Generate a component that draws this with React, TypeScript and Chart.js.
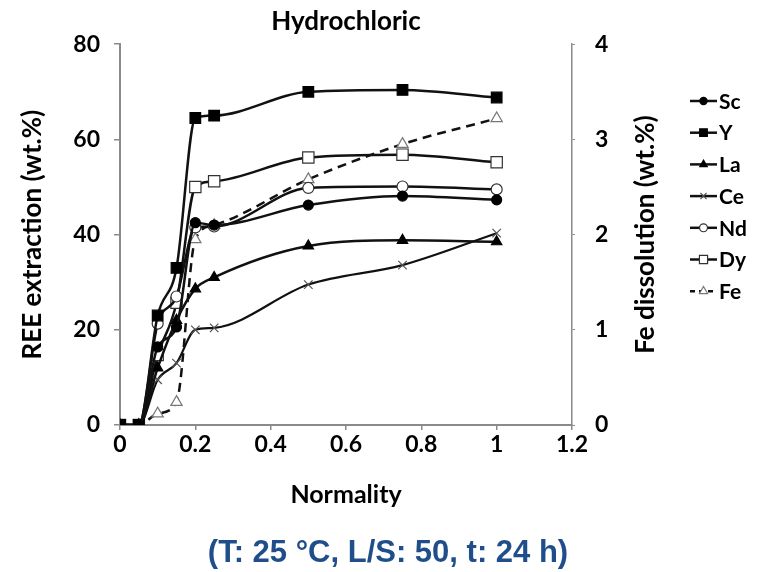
import React, { useEffect, useRef } from 'react';
import { Chart, registerables } from 'chart.js';
import { drawPoint } from 'chart.js/helpers';

Chart.register(...registerables);

const normality = [0, 0.05, 0.1, 0.15, 0.2, 0.25, 0.5, 0.75, 1.0];
const scValues = [0, 0, 16.4, 20.6, 42.5, 42.0, 46.2, 48.1, 47.3];
const yValues = [0, 0, 23.0, 33.0, 64.5, 65.0, 70.0, 70.4, 68.8];
const laValues = [0, 0, 12.0, 22.0, 28.6, 31.0, 37.6, 38.8, 38.5];
const ceValues = [0, 0, 9.5, 13.0, 20.0, 20.4, 29.5, 33.6, 40.3];
const ndValues = [0, 0, 21.3, 27.0, 41.5, 41.7, 49.8, 50.1, 49.5];
const dyValues = [0, 0, 14.7, 25.7, 50.0, 51.2, 56.2, 56.8, 55.2];
const feValues = [0, 0, 0.12, 0.24, 1.95, 2.1, 2.58, 2.95, 3.22];

const seriesNames = ['Sc', 'Y', 'La', 'Ce', 'Nd', 'Dy', 'Fe'];
const yTicks = [0, 20, 40, 60, 80];
const feTicks = [0, 1, 2, 3, 4];
const xTicks = [0, 0.2, 0.4, 0.6, 0.8, 1.0, 1.2];

const titleText = 'Hydrochloric';
const xTitle = 'Normality';
const yTitle = 'REE extraction (wt.%)';
const y1Title = 'Fe dissolution (wt.%)';
const conditionText = '(T: 25 °C, L/S: 50, t: 24 h)';

const toPoints = (vals: number[]) => vals.map((v, i) => ({ x: normality[i], y: v }));

const FONT = 'Lato, "Open Sans", sans-serif';

const extrasPlugin = {
  id: 'extras',
  afterDraw(chart: any) {
    const { ctx, chartArea } = chart;
    ctx.save();
    ctx.fillStyle = '#000';
    ctx.font = `bold 26px ${FONT}`;
    ctx.textAlign = 'center';
    ctx.textBaseline = 'middle';
    ctx.translate(646, (chartArea.top + chartArea.bottom) / 2);
    ctx.rotate(-Math.PI / 2);
    ctx.fillText(y1Title, 0, 0);
    ctx.restore();

    ctx.save();
    const x0 = 690;
    const x1 = 717;
    const startY = 101;
    const step = 31.7;
    chart.data.datasets.forEach((ds: any, i: number) => {
      const yy = startY + i * step;
      ctx.save();
      ctx.strokeStyle = '#111';
      ctx.lineWidth = 2.5;
      if (ds.borderDash && ds.borderDash.length) ctx.setLineDash([5, 4]);
      ctx.beginPath();
      ctx.moveTo(x0, yy);
      ctx.lineTo(x1, yy);
      ctx.stroke();
      ctx.setLineDash([]);
      ctx.fillStyle = ds.pointBackgroundColor;
      ctx.strokeStyle = ds.pointBorderColor;
      ctx.lineWidth = 1.2;
      drawPoint(ctx, { pointStyle: ds.pointStyle, radius: ds.pointRadius * 0.72, rotation: 0, borderWidth: 1.2 }, (x0 + x1) / 2, yy);
      ctx.restore();
      ctx.fillStyle = '#000';
      ctx.font = `bold 21px ${FONT}`;
      ctx.textAlign = 'left';
      ctx.textBaseline = 'middle';
      ctx.fillText(ds.label, x1 + 2, yy + 1);
    });
    ctx.restore();
  },
};

const fmt = (v: any) => String(+Number(v).toFixed(2));

export default function App() {
  const canvasRef = useRef<HTMLCanvasElement | null>(null);

  useEffect(() => {
    document.body.style.margin = '0';
    const canvas = canvasRef.current;
    if (!canvas) return;

    const base = {
      borderColor: '#111',
      borderWidth: 2.5,
      cubicInterpolationMode: 'monotone',
      showLine: true,
      pointBorderWidth: 1.2,
      yAxisID: 'y',
    };

    const datasets: any[] = [
      { ...base, label: seriesNames[0], data: toPoints(scValues), pointStyle: 'circle', pointRadius: 5, pointBackgroundColor: '#000', pointBorderColor: '#000' },
      { ...base, label: seriesNames[1], data: toPoints(yValues), pointStyle: 'rect', pointRadius: 7.5, pointBackgroundColor: '#000', pointBorderColor: '#000' },
      { ...base, label: seriesNames[2], data: toPoints(laValues), pointStyle: 'triangle', pointRadius: 6, pointBackgroundColor: '#000', pointBorderColor: '#000' },
      { ...base, label: seriesNames[3], data: toPoints(ceValues), pointStyle: 'crossRot', pointRadius: 6, pointBackgroundColor: '#555', pointBorderColor: '#555', borderWidth: 2.2 },
      { ...base, label: seriesNames[4], data: toPoints(ndValues), pointStyle: 'circle', pointRadius: 5.5, pointBackgroundColor: '#fff', pointBorderColor: '#333' },
      { ...base, label: seriesNames[5], data: toPoints(dyValues), pointStyle: 'rect', pointRadius: 8, pointBackgroundColor: '#fff', pointBorderColor: '#333' },
      { ...base, label: seriesNames[6], data: toPoints(feValues), pointStyle: 'triangle', pointRadius: 6.5, pointBackgroundColor: '#fff', pointBorderColor: '#777', borderDash: [9, 6], yAxisID: 'y1' },
    ];

    const tickFont = { family: FONT, size: 23, weight: 'bold' as const };
    const axisGray = '#8a8a8a';

    const chart = new Chart(canvas, {
      type: 'scatter',
      data: { datasets },
      plugins: [extrasPlugin],
      options: {
        animation: false,
        responsive: false,
        layout: { padding: 0 },
        plugins: {
          legend: { display: false },
          tooltip: { enabled: false },
          title: {
            display: true,
            text: titleText,
            fullSize: false,
            color: '#000',
            font: { family: FONT, size: 26, weight: 'bold' },
            padding: { top: 6, bottom: 7 },
          },
          subtitle: {
            display: true,
            position: 'bottom',
            fullSize: true,
            text: conditionText,
            color: '#1f4e8a',
            font: { family: '"Liberation Sans", Arial, sans-serif', size: 31, weight: 'bold' },
            padding: { top: 0, bottom: 0 },
          },
        },
        scales: {
          x: {
            type: 'linear',
            min: 0,
            max: 1.2,
            afterBuildTicks: (s: any) => { s.ticks = xTicks.map((v) => ({ value: v })); },
            ticks: { color: '#000', font: tickFont, padding: 1, maxRotation: 0, callback: fmt },
            grid: { drawOnChartArea: false, tickLength: 5, color: axisGray, lineWidth: 1.5 },
            border: { color: axisGray, width: 2 },
            title: { display: true, text: xTitle, color: '#000', font: { family: FONT, size: 25, weight: 'bold' }, padding: { top: 0, bottom: 25 } },
            afterFit: (s: any) => { s.height = 109.8; },
          },
          y: {
            type: 'linear',
            position: 'left',
            min: 0,
            max: 80,
            afterBuildTicks: (s: any) => { s.ticks = yTicks.map((v) => ({ value: v })); },
            ticks: { color: '#000', font: tickFont, padding: 14, callback: fmt },
            grid: { drawOnChartArea: false, tickLength: 6, color: axisGray, lineWidth: 1.5 },
            border: { color: axisGray, width: 2 },
            title: { display: true, text: yTitle, color: '#000', font: { family: FONT, size: 26, weight: 'bold' }, padding: { top: 17, bottom: 0 } },
            afterFit: (s: any) => { s.width = 120; },
          },
          y1: {
            type: 'linear',
            position: 'right',
            min: 0,
            max: 4,
            afterBuildTicks: (s: any) => { s.ticks = feTicks.map((v) => ({ value: v })); },
            ticks: { color: '#000', font: tickFont, padding: 20, callback: fmt },
            grid: { drawOnChartArea: false, tickLength: 3, color: axisGray, lineWidth: 1 },
            border: { color: axisGray, width: 1.5, dash: [2, 2] },
            afterFit: (s: any) => { s.width = 204; },
          },
        },
      } as any,
    });

    return () => chart.destroy();
  }, []);

  return (
    <div style={{ width: 776, height: 572 }}>
      <canvas ref={canvasRef} width={776} height={572} style={{ display: 'block' }} />
    </div>
  );
}
